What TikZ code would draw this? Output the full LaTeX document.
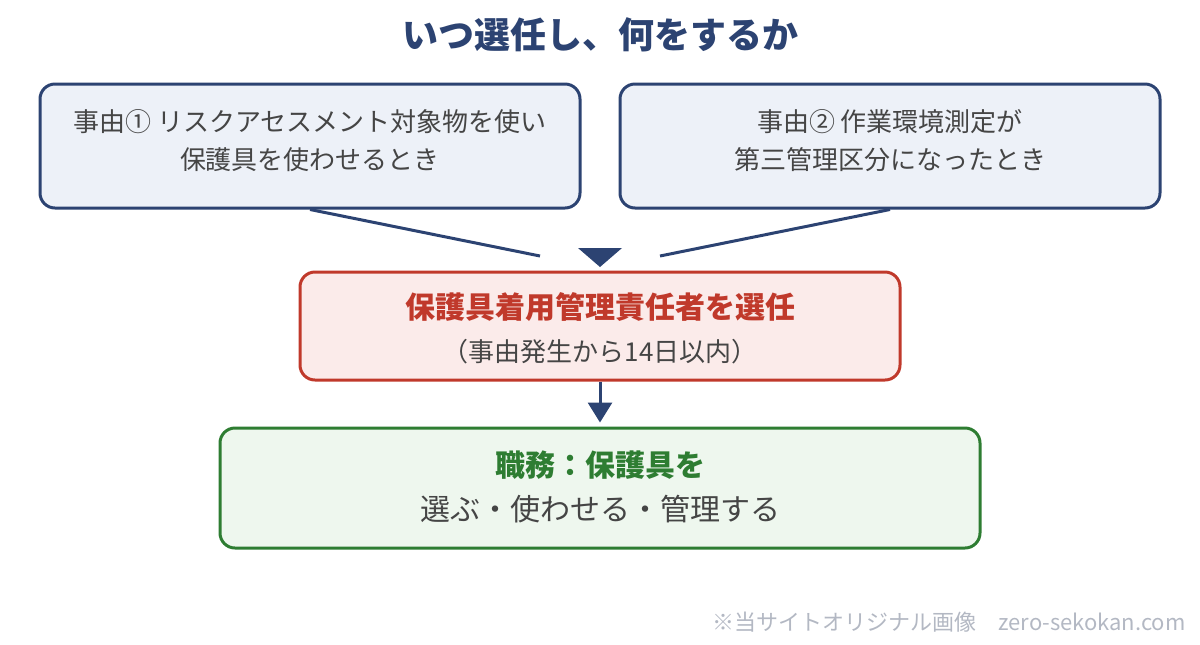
\documentclass[tikz,border=0pt]{standalone}
\usepackage{fontspec}
\setmainfont{Noto Sans CJK JP}
\usepackage{xcolor}
\usepackage{tikz}
\usetikzlibrary{arrows.meta}

\definecolor{navy}{HTML}{2C4372}
\definecolor{reasonfill}{HTML}{EDF1F8}
\definecolor{dutyred}{HTML}{C0392B}
\definecolor{dutyfill}{HTML}{FBEBEA}
\definecolor{taskgreen}{HTML}{2E7D32}
\definecolor{taskfill}{HTML}{EEF7EE}
\definecolor{bodygray}{HTML}{454545}
\definecolor{markgray}{HTML}{B3B8C3}

\tikzset{
  box/.style={draw, line width=1.5pt, rounded corners=7.5pt, inner sep=0pt},
  reason/.style={box, draw=navy, fill=reasonfill,
    minimum width=270pt, minimum height=62pt},
  txt/.style={align=center, text=bodygray, inner sep=0pt},
  link/.style={navy, line width=1.5pt},
}

\begin{document}
\begin{tikzpicture}[x=0.5pt, y=-0.5pt]
  \useasboundingbox (0,0) rectangle (1200,644);
  % Define nodes
  \node[font=\fontsize{18pt}{20pt}\selectfont\bfseries, text=navy] (title) at (600,35) {いつ選任し、何をするか};
  \node[reason] (reasonA) at (310,146) {};
  \node[reason] (reasonB) at (890,146) {};
  \node[txt, font=\fontsize{13pt}{19pt}\selectfont] (reasonAtxt) at (310,141)
    {事由① リスクアセスメント対象物を使い\\保護具を使わせるとき};
  \node[txt, font=\fontsize{13pt}{19pt}\selectfont] (reasonBtxt) at (890,141)
    {事由② 作業環境測定が\\第三管理区分になったとき};
  \node[box, draw=dutyred, fill=dutyfill, minimum width=300pt, minimum height=54pt] (duty) at (600,326) {};
  \node[txt, text=dutyred, font=\fontsize{15pt}{17pt}\selectfont\bfseries] (dutytitle) at (600,307) {保護具着用管理責任者を選任};
  \node[txt, font=\fontsize{13pt}{15pt}\selectfont] (dutysub) at (600,352) {（事由発生から14日以内）};
  \node[box, draw=taskgreen, fill=taskfill, minimum width=380pt, minimum height=60pt] (task) at (600,488) {};
  \node[txt, text=taskgreen, font=\fontsize{15pt}{17pt}\selectfont\bfseries] (tasktitle) at (600,465) {職務：保護具を};
  \node[txt, font=\fontsize{15pt}{17pt}\selectfont] (tasksub) at (600,509) {選ぶ・使わせる・管理する};
  \node[anchor=east, text=markgray, font=\fontsize{11pt}{13pt}\selectfont, inner sep=0pt] (mark) at (1186,622)
    {※当サイトオリジナル画像\hspace{11pt}zero-sekokan.com};
  % Connectors
  \coordinate (joinA) at (540,256);
  \coordinate (joinB) at (660,256);
  \draw[link] (reasonA.south) -- (joinA);
  \draw[link] (reasonB.south) -- (joinB);
  \fill[navy] (578,248) -- (622,248) -- (600,267) -- cycle;
  \draw[link, -{Triangle[width=12pt, length=10pt]}] (duty.south) -- ([yshift=2pt]task.north);
\end{tikzpicture}
\end{document}
